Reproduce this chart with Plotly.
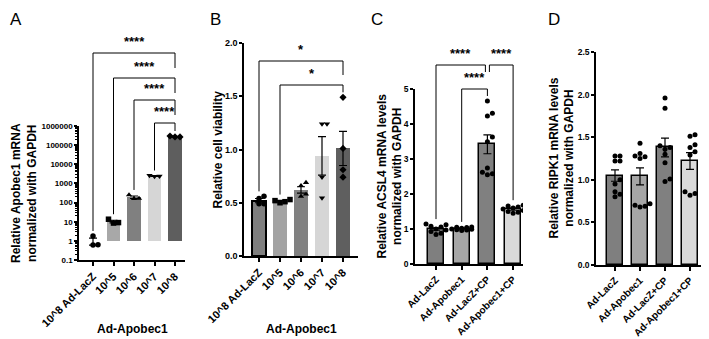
import numpy as np
import plotly.graph_objects as go

# ---------------- data ----------------
a_labels = ["10^8 Ad-LacZ", "10^5", "10^6", "10^7", "10^8"]
a_mean = [1.0, 10.3, 192, 2430, 280000]
a_sem = [0.40, 1.6, 29, 88, 10000]
a_points = [[1.8, 0.62, 0.60], [13.5, 8.5, 9.0], [250, 165, 160],
            [2600, 2400, 2300], [300000, 270000, 270000]]
a_symbols = ["circle", "square", "triangle-up", "triangle-down", "diamond"]
a_colors = ["#7f7f7f", "#a8a8a8", "#808080", "#d6d6d6", "#5e5e5e"]
a_ytickvals = [0.1, 1, 10, 100, 1000, 10000, 100000, 1000000]
a_yticktext = ["0.1", "1", "10", "100", "1000", "10000", "100000", "1000000"]

b_labels = ["10^8 Ad-LacZ", "10^5", "10^6", "10^7", "10^8"]
b_mean = [0.52, 0.515, 0.62, 0.94, 1.01]
b_sem = [0.02, 0.008, 0.03, 0.18, 0.16]
b_points = [[0.56, 0.54, 0.49, 0.49], [0.53, 0.52, 0.51, 0.50],
            [0.69, 0.66, 0.58, 0.56], [1.24, 1.24, 0.74, 0.545],
            [1.49, 1.01, 0.81, 0.74]]
b_colors = ["#7f7f7f", "#a3a3a3", "#818181", "#d6d6d6", "#5f5f5f"]

c_labels = ["Ad-LacZ", "Ad-Apobec1", "Ad-LacZ+CP", "Ad-Apobec1+CP"]
c_mean = [1.0, 1.01, 3.42, 1.57]
c_sem = [0.035, 0.012, 0.27, 0.028]
c_points = [[1.14, 1.12, 1.08, 1.06, 1.0, 0.97, 0.93, 0.88, 0.84],
            [1.06, 1.05, 1.04, 1.02, 1.0, 0.99, 0.98, 0.97, 0.96],
            [4.66, 4.23, 4.31, 3.49, 3.63, 2.74, 2.62, 2.58, 2.55],
            [1.68, 1.66, 1.63, 1.60, 1.57, 1.53, 1.50, 1.48, 1.45]]

d_labels = ["Ad-LacZ", "Ad-Apobec1", "Ad-LacZ+CP", "Ad-Apobec1+CP"]
d_mean = [1.05, 1.04, 1.38, 1.22]
d_sem = [0.067, 0.10, 0.11, 0.098]
d_points = [[1.28, 1.28, 1.22, 1.22, 1.0, 0.95, 0.86, 0.83, 0.80],
            [1.43, 1.31, 1.28, 1.27, 1.25, 0.72, 0.70, 0.69, 0.68],
            [1.96, 1.84, 1.40, 1.36, 1.30, 1.20, 1.01, 0.98, 1.38],
            [1.53, 1.51, 1.41, 1.38, 1.33, 1.29, 0.86, 0.84, 0.82]]
cd_colors = ["#7f7f7f", "#a6a6a6", "#808080", "#d9d9d9"]

# ---------------- layout helpers ----------------
W, H = 709, 339
OFF = 8  # default page body margin of the written html
FONT = "Liberation Sans, Arial, sans-serif"


def fx(px):
    return (px - OFF) / W


def fy(py):
    return 1 - (py - OFF) / H


panels = [
    dict(letter="A", n="", labels=a_labels, mean=a_mean, sem=a_sem, pts=a_points,
         sym=a_symbols, colors=a_colors, outline=[0, 0, 0, 0, 0],
         xpx=(79, 185), ypx=(260, 126), c0=93, sp=20.5, yr=(-1, 6), log=True,
         bw=0.68, ytick_size=8, xtick_size=11, letter_x=16,
         ytitle="Relative Apobec1 mRNA<br>normalized with GAPDH", ytitle_x=24,
         xtitle="Ad-Apobec1", msize=5.5),
    dict(letter="B", n="2", labels=b_labels, mean=b_mean, sem=b_sem, pts=b_points,
         sym=a_symbols, colors=b_colors, outline=[2, 0, 0, 0, 0],
         xpx=(244, 358), ypx=(256, 43), c0=259, sp=21, yr=(0, 2.0), log=False,
         bw=0.67, ytick_size=9, xtick_size=11, dtick=0.5, fmt=".1f", letter_x=215,
         ytitle="Relative cell viability", ytitle_x=218,
         xtitle="Ad-Apobec1", msize=5.5),
    dict(letter="C", n="3", labels=c_labels, mean=c_mean, sem=c_sem, pts=c_points,
         sym=["circle"] * 4, colors=cd_colors, outline=[1.5] * 4,
         xpx=(415, 523), ypx=(264, 89), c0=436, sp=25.7, yr=(0, 5), log=False,
         bw=0.62, ytick_size=8.5, xtick_size=10, dtick=1, fmt="d", letter_x=377,
         ytitle="Relative ACSL4 mRNA levels<br>normalized with GAPDH", ytitle_x=389,
         xtitle=None, msize=5),
    dict(letter="D", n="4", labels=d_labels, mean=d_mean, sem=d_sem, pts=d_points,
         sym=["circle"] * 4, colors=cd_colors, outline=[1.5] * 4,
         xpx=(596, 707), ypx=(265, 52), c0=615, sp=25, yr=(0, 2.5), log=False,
         bw=0.63, ytick_size=8.5, xtick_size=10, dtick=0.5, fmt=".1f", letter_x=554,
         ytitle="Relative RIPK1 mRNA levels<br>normalized with GAPDH", ytitle_x=561,
         xtitle=None, msize=5),
]


def to_py(p, val):
    v = np.log10(val) if p["log"] else val
    r0, r1 = p["yr"]
    y0, y1 = p["ypx"]
    return y0 - (v - r0) / (r1 - r0) * (y0 - y1)


def swarm(vals_py, d=5.0, step=5.0, maxoff=10):
    cands = [0.0]
    k = 1
    while k * step <= maxoff:
        cands += [k * step, -k * step]
        k += 1
    placed = []
    offs = [0.0] * len(vals_py)
    for i in np.argsort(vals_py)[::-1]:
        best, bestd = 0.0, -1
        for c in cands:
            md = min([np.hypot(c - q[0], vals_py[i] - q[1]) for q in placed] or [1e9])
            if md >= d:
                best = c
                break
            if md > bestd:
                bestd, best = md, c
        offs[i] = best
        placed.append((best, vals_py[i]))
    return offs


fig = go.Figure()
shapes = []
annotations = []
layout_axes = {}

for p in panels:
    n = p["n"]
    xa, ya = "x" + n, "y" + n
    ng = len(p["labels"])
    idx = list(range(ng))
    x0px, x1px = p["xpx"]
    xr = ((x0px - p["c0"]) / p["sp"], (x1px - p["c0"]) / p["sp"])

    # bars
    if p["log"]:
        fig.add_trace(go.Bar(x=idx, y=[m - 1 for m in p["mean"]], base=[1] * ng,
                             width=p["bw"], marker=dict(color=p["colors"], line=dict(width=0)),
                             xaxis=xa, yaxis=ya, showlegend=False))
    else:
        fig.add_trace(go.Bar(x=idx, y=p["mean"], width=p["bw"],
                             marker=dict(color=p["colors"],
                                         line=dict(color="black", width=p["outline"])),
                             xaxis=xa, yaxis=ya, showlegend=False))
    # error bars
    fig.add_trace(go.Scatter(x=idx, y=p["mean"], mode="markers",
                             marker=dict(size=1, color="rgba(0,0,0,0)"),
                             error_y=dict(type="data", array=p["sem"], color="black",
                                          thickness=1.2, width=4),
                             xaxis=xa, yaxis=ya, showlegend=False))
    # points
    for g in range(ng):
        vals = p["pts"][g]
        pys = [to_py(p, v) for v in vals]
        offs = swarm(pys)
        xs = [g + o / p["sp"] for o in offs]
        fig.add_trace(go.Scatter(x=xs, y=vals, mode="markers",
                                 marker=dict(symbol=p["sym"][g], size=p["msize"], color="black",
                                             line=dict(width=0)),
                                 xaxis=xa, yaxis=ya, showlegend=False))

    xkey = "xaxis" + n
    ykey = "yaxis" + n
    layout_axes[xkey] = dict(domain=[fx(x0px), fx(x1px)], range=list(xr), anchor=ya,
                             automargin=False,
                             tickmode="array", tickvals=idx, ticktext=p["labels"],
                             tickangle=-45, ticks="outside", ticklen=4, tickwidth=1.5,
                             tickcolor="black", showline=True, linecolor="black", linewidth=1.5,
                             showgrid=False, zeroline=False,
                             tickfont=dict(family=FONT, size=p["xtick_size"], color="black",
                                           weight="bold"))
    yd = dict(domain=[fy(p["ypx"][0]), fy(p["ypx"][1])], anchor=xa, ticks="outside",
              automargin=False,
              ticklen=3, tickwidth=1.5, tickcolor="black", showline=True, linecolor="black",
              linewidth=1.5, showgrid=False, zeroline=False,
              tickfont=dict(family=FONT, size=p["ytick_size"], color="black", weight="bold"))
    if p["log"]:
        minor_vals = [k * 10.0 ** e for e in range(-1, 6) for k in range(2, 10)]
        yd.update(type="log", range=list(p["yr"]), tickmode="array",
                  tickvals=a_ytickvals, ticktext=a_yticktext,
                  minor=dict(tickmode="array", tickvals=minor_vals, ticks="outside",
                             ticklen=2, tickwidth=0.8, tickcolor="black", showgrid=False))
    else:
        yd.update(range=list(p["yr"]), tickmode="linear", tick0=0, dtick=p["dtick"],
                  tickformat=p["fmt"])
    layout_axes[ykey] = yd

    # panel letter (kept fully inside the figure area)
    annotations.append(dict(x=fx(p["letter_x"]), y=fy(9), xref="paper", yref="paper",
                            text=p["letter"], showarrow=False, xanchor="center", yanchor="top",
                            borderpad=0,
                            font=dict(family=FONT, size=17, color="black")))
    # y title
    ymid = (p["ypx"][0] + p["ypx"][1]) / 2
    annotations.append(dict(x=fx(p["ytitle_x"]), y=fy(ymid), xref="paper", yref="paper",
                            text=p["ytitle"], textangle=-90, showarrow=False,
                            xanchor="center", yanchor="middle",
                            font=dict(family=FONT, size=12, color="black", weight="bold")))
    if p["xtitle"]:
        annotations.append(dict(x=fx((x0px + x1px) / 2), y=fy(329), xref="paper", yref="paper",
                                text=p["xtitle"], showarrow=False, xanchor="center",
                                yanchor="middle",
                                font=dict(family=FONT, size=12, color="black", weight="bold")))

# ---------------- significance brackets ----------------
brackets = {
    "A": [(0, 4, 53, "****", "data", "short", 0, 0),
          (1, 4, 78, "****", "data", "short", 0, 0),
          (2, 4, 100, "****", "data", "short", 0, 0),
          (3, 4, 123, "****", "data", "data", 0, 0)],
    "B": [(0, 4, 61, "*", "data", "short", 0, 0),
          (1, 4, 85, "*", "data", "data", 0, 0)],
    "C": [(0, 2, 65, "****", "data", "short", 0, 2),
          (2, 3, 65, "****", "short", "data", 2, 0),
          (1, 2, 89, "****", "data", "short", 0, 0)],
}
short_len = {"A": 15, "B": 14, "C": 7}
pad = 5

for p in panels:
    if p["letter"] not in brackets:
        continue
    xa = "x" + p["n"]
    for (i, j, lev, lab, lm, rm, insl, insr) in brackets[p["letter"]]:
        xi = i + insl / p["sp"]
        xj = j - insr / p["sp"]

        def bottom(k, mode):
            if mode == "short":
                return lev + short_len[p["letter"]]
            top = max(max(p["pts"][k]), p["mean"][k] + p["sem"][k])
            return to_py(p, top) - pad

        line = dict(color="black", width=1)
        shapes.append(dict(type="line", xref=xa, yref="paper", x0=xi, x1=xj,
                           y0=fy(lev), y1=fy(lev), line=line))
        shapes.append(dict(type="line", xref=xa, yref="paper", x0=xi, x1=xi,
                           y0=fy(lev), y1=fy(bottom(i, lm)), line=line))
        shapes.append(dict(type="line", xref=xa, yref="paper", x0=xj, x1=xj,
                           y0=fy(lev), y1=fy(bottom(j, rm)), line=line))
        annotations.append(dict(x=(xi + xj) / 2, y=fy(lev - 2), xref=xa, yref="paper",
                                text=lab, showarrow=False, xanchor="center", yanchor="bottom",
                                font=dict(family=FONT, size=13, color="black", weight="bold")))

# horizontal baseline at y = 1 in panel A
shapes.append(dict(type="line", xref="x domain", yref="y", x0=0, x1=1, y0=0, y1=0,
                   line=dict(color="black", width=1.5)))

fig.update_layout(template="none", width=W, height=H, margin=dict(l=0, r=0, t=0, b=0),
                  paper_bgcolor="white", plot_bgcolor="rgba(0,0,0,0)", showlegend=False,
                  bargap=0, shapes=shapes, annotations=annotations,
                  font=dict(family=FONT, color="black"), **layout_axes)

fig.write_html("out.html")
